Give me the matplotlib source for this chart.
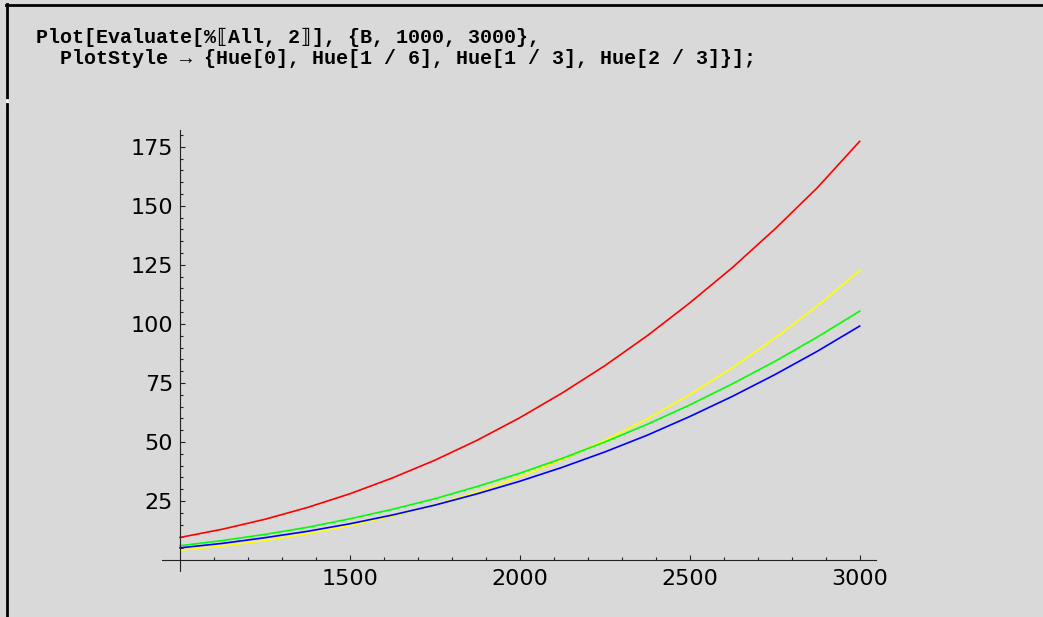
import numpy as np
import matplotlib
matplotlib.use("Agg")
import matplotlib.pyplot as plt
from matplotlib.lines import Line2D

# values
B = [1000, 1125, 1250, 1375, 1500, 1625, 1750, 1875, 2000,
     2125, 2250, 2375, 2500, 2625, 2750, 2875, 3000]
red = [9.6, 13.1, 17.3, 22.3, 28.1, 34.8, 42.3, 50.8, 60.3,
       70.8, 82.3, 95.0, 108.9, 123.8, 140.1, 157.6, 177.3]
yellow = [4.2, 6.0, 8.3, 11.2, 14.6, 18.7, 23.4, 28.9, 35.3,
          42.5, 50.7, 59.8, 70.1, 81.4, 93.9, 107.6, 122.6]
green = [6.1, 8.3, 10.9, 13.9, 17.5, 21.5, 26.0, 31.2, 36.8,
         43.1, 50.0, 57.5, 65.7, 74.6, 84.1, 94.4, 105.4]
blue = [5.2, 7.1, 9.5, 12.2, 15.4, 19.1, 23.3, 28.1, 33.4,
        39.3, 45.8, 52.9, 60.8, 69.3, 78.5, 88.4, 99.1]
series = [red, yellow, green, blue]
colors = ["#ff0000", "#ffff00", "#00ff00", "#0000ff"]

xticks = [1500, 2000, 2500, 3000]
yticks = [25, 50, 75, 100, 125, 150, 175]

code_lines = ["Plot[Evaluate[%\u27e6All, 2\u27e7], {B, 1000, 3000},",
              "  PlotStyle \u2192 {Hue[0], Hue[1 / 6], Hue[1 / 3], Hue[2 / 3]}];"]

W, H = 1043, 617
bg = "#d9d9d9"
fig = plt.figure(figsize=(W / 100, H / 100), dpi=100, facecolor=bg)

# code cell text
for i, line in enumerate(code_lines):
    fig.text(36 / W, 1 - (37 + 21.5 * i) / H, line,
             family=["Liberation Mono", "DejaVu Sans Mono", "DejaVu Sans"],
             fontweight="bold", fontsize=14.4, va="center", ha="left")

# cell borders
fig.add_artist(Line2D([6 / W, 1], [1 - 4.5 / H] * 2, color="black", lw=2,
                      transform=fig.transFigure))
fig.add_artist(Line2D([7 / W] * 2, [1 - 3.5 / H, 1 - 100 / H], color="black",
                      lw=2, transform=fig.transFigure))
fig.add_artist(Line2D([7 / W] * 2, [1 - 100 / H, 1 - 104 / H], color="white",
                      lw=2, transform=fig.transFigure))
fig.add_artist(Line2D([7 / W] * 2, [1 - 104 / H, 0], color="black",
                      lw=2, transform=fig.transFigure))

# plot area: axis lines span x 162..876, y 130..571 px
ax = fig.add_axes([162 / W, 1 - 571 / H, (876 - 162) / W, (571 - 130) / H])
ax.set_facecolor(bg)
for s, c in zip(series, colors):
    ax.plot(B, s, color=c, lw=1.2)

ax.set_xlim(947, 3048)
ax.set_ylim(-4.6, 182.1)
ax.spines["top"].set_visible(False)
ax.spines["right"].set_visible(False)
ax.spines["left"].set_position(("data", 1000))
ax.spines["bottom"].set_position(("data", 0))
for sp in ("left", "bottom"):
    ax.spines[sp].set_linewidth(0.8)
    ax.spines[sp].set_color("#222222")

ax.set_xticks(xticks)
ax.set_xticks([b for b in range(1100, 3001, 100) if b % 500], minor=True)
ax.set_yticks(yticks)
ax.set_yticks([v for v in range(5, 181, 5) if v % 25], minor=True)
ax.tick_params(which="both", direction="in", color="#222222", width=0.8)
ax.tick_params(which="major", length=3.8, labelsize=16)
ax.tick_params(which="minor", length=2.2)
ax.tick_params(axis="x", which="major", pad=6.5)
ax.tick_params(axis="y", which="major", pad=5)

fig.savefig("out.png", dpi=100, facecolor=bg)
